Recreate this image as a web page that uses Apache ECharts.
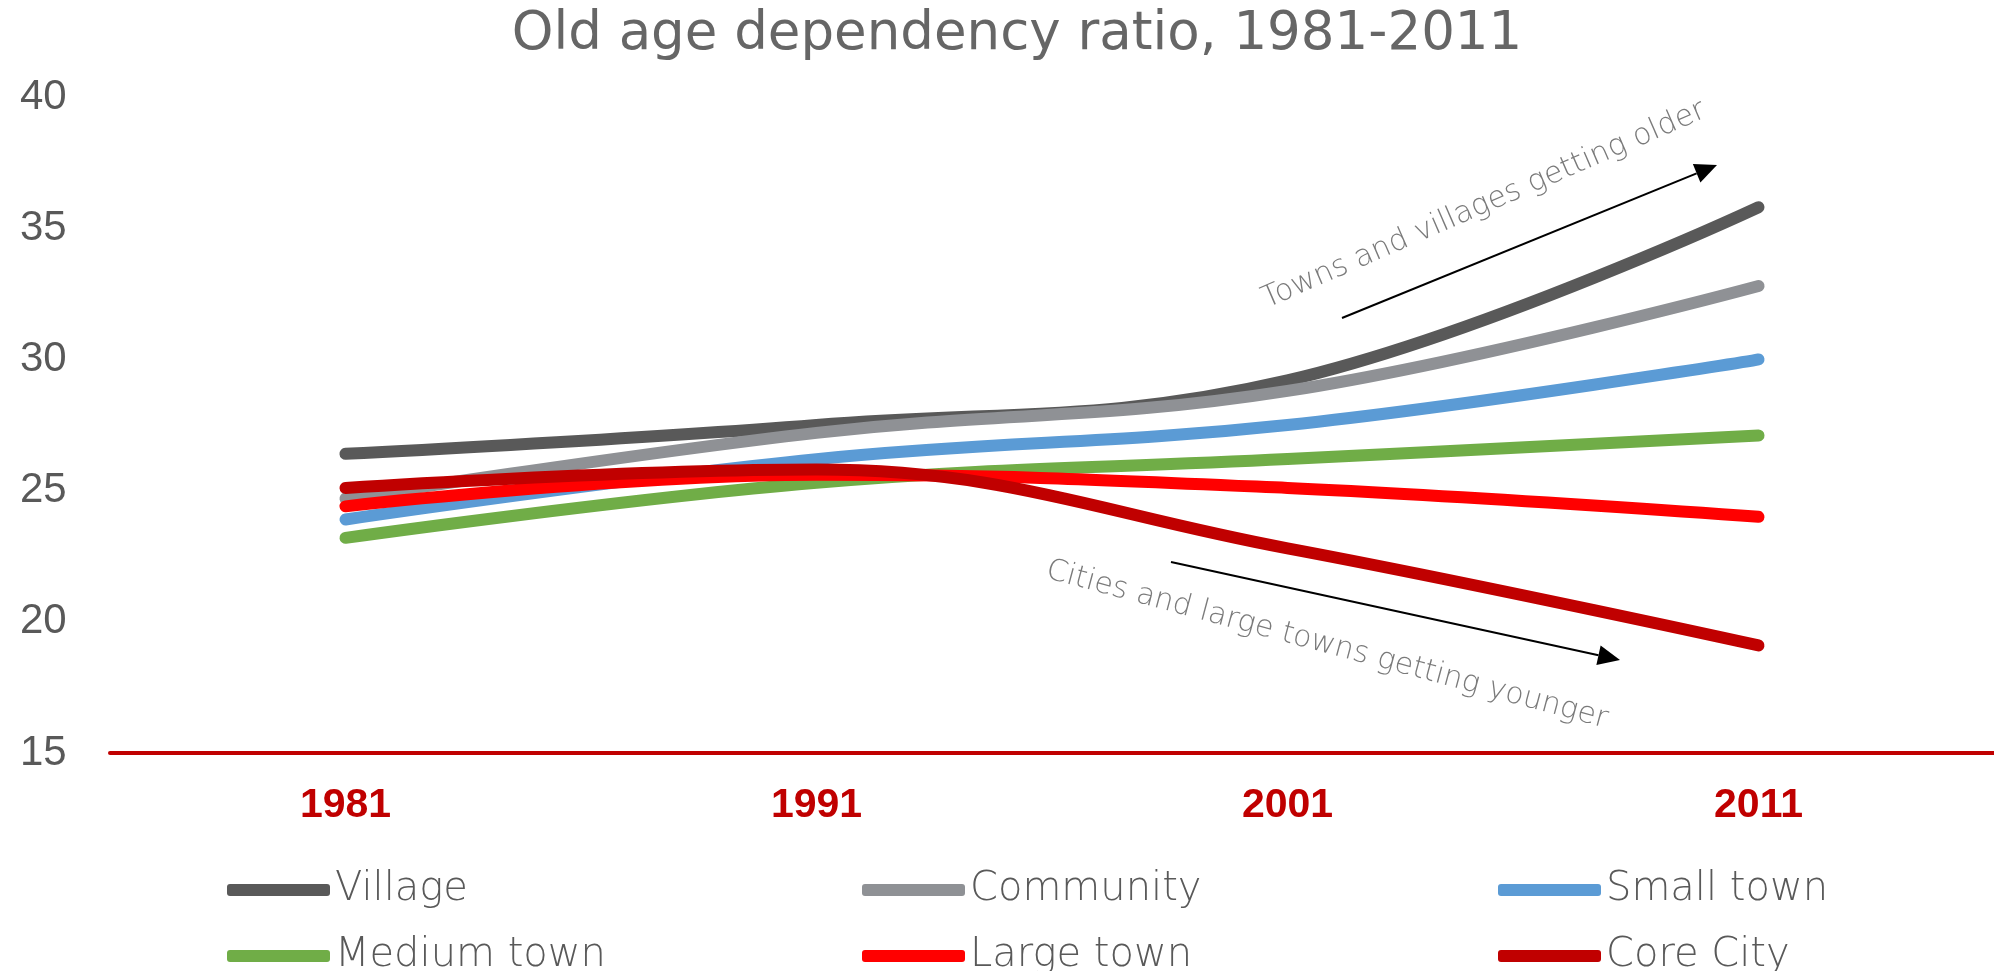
<!DOCTYPE html>
<html>
<head>
<meta charset="utf-8">
<script src="https://cdn.jsdelivr.net/npm/echarts@6/dist/echarts.min.js"></script>
<style>
html,body{margin:0;padding:0;background:#fff;}
#chart{width:1994px;height:971px;}
</style>
</head>
<body>
<div id="chart"></div>
<script>
const years = ['1981', '1991', '2001', '2011'];
const seriesNames = ['Village', 'Community', 'Small town', 'Medium town', 'Large town', 'Core City'];
const village = [26.4, 27.5, 29.2, 35.8];
const community = [24.7, 27.2, 28.8, 32.8];
const smallTown = [23.9, 26.2, 27.5, 30.0];
const mediumTown = [23.2, 25.3, 26.2, 27.1];
const largeTown = [24.4, 25.6, 25.1, 24.0];
const coreCity = [25.1, 25.8, 22.8, 19.1];
const yTicks = [15, 20, 25, 30, 35, 40];
const colors = ['#595959', '#8F9195', '#5B9BD5', '#70AD47', '#FF0000', '#C00000'];
const values = [village, community, smallTown, mediumTown, largeTown, coreCity];

const chart = echarts.init(document.getElementById('chart'));

function arrow(x1, y1, x2, y2) {
  const ang = Math.atan2(y2 - y1, x2 - x1);
  const L = 22, W = 10;
  const bx = x2 - L * Math.cos(ang), by = y2 - L * Math.sin(ang);
  const px = -Math.sin(ang) * W, py = Math.cos(ang) * W;
  return [
    { type: 'line', shape: { x1: x1, y1: y1, x2: bx, y2: by }, style: { stroke: '#000', lineWidth: 2 } },
    { type: 'polygon', shape: { points: [[x2, y2], [bx + px, by + py], [bx - px, by - py]] }, style: { fill: '#000' } }
  ];
}

const legendFont = { color: '#595959', fontSize: 40, fontFamily: 'DejaVu Sans', fontWeight: 200, lineHeight: 40 };
const legendCols = [227, 862, 1498];
const legendRows = [870, 936];
const legends = seriesNames.map((n, i) => ({
  left: legendCols[i % 3], top: legendRows[Math.floor(i / 3)], orient: 'horizontal', padding: 0,
  itemWidth: 103, itemHeight: 12,
  textStyle: legendFont,
  data: [{ name: n, icon: 'roundRect' }]
}));

chart.setOption({
  animation: false,
  title: {
    text: 'Old age dependency ratio, 1981-2011',
    left: 1017, top: 9, padding: 0, textAlign: 'center',
    textStyle: { color: '#666666', fontSize: 53, fontFamily: 'DejaVu Sans', fontWeight: 'normal' }
  },
  legend: legends,
  grid: { left: 110, right: -10, top: 97, bottom: 218, containLabel: false },
  xAxis: {
    type: 'category', data: years, boundaryGap: true,
    axisLine: { lineStyle: { color: '#C00000', width: 4 } },
    axisTick: { show: false },
    axisLabel: { color: '#C00000', fontSize: 41, fontWeight: 'bold', fontFamily: 'Liberation Sans', margin: 32 }
  },
  yAxis: {
    type: 'value', min: yTicks[0], max: yTicks[yTicks.length - 1], interval: 5,
    axisLine: { show: false }, axisTick: { show: false }, splitLine: { show: false },
    axisLabel: { color: '#595959', fontSize: 42, fontFamily: 'Liberation Sans', align: 'left', margin: 90 }
  },
  series: values.map((v, i) => ({
    name: seriesNames[i], type: 'line', data: v, smooth: 0.4,
    symbol: 'none', color: colors[i],
    lineStyle: { width: 12, color: colors[i], cap: 'round', join: 'round' },
    itemStyle: { color: colors[i] }
  })),
  graphic: [
    ...arrow(1342, 318, 1717, 165),
    ...arrow(1171, 562, 1620, 660),
    { type: 'text', x: 1484, y: 205, rotation: 23.5 * Math.PI / 180,
      style: { text: 'Towns and villages getting older', fill: '#7a7a7a', fontSize: 30, fontFamily: 'DejaVu Sans', fontWeight: 200, align: 'center', verticalAlign: 'middle' } },
    { type: 'text', x: 1327, y: 645, rotation: -15 * Math.PI / 180,
      style: { text: 'Cities and large towns getting younger', fill: '#7a7a7a', fontSize: 30, fontFamily: 'DejaVu Sans', fontWeight: 200, align: 'center', verticalAlign: 'middle' } }
  ]
});
</script>
</body>
</html>
